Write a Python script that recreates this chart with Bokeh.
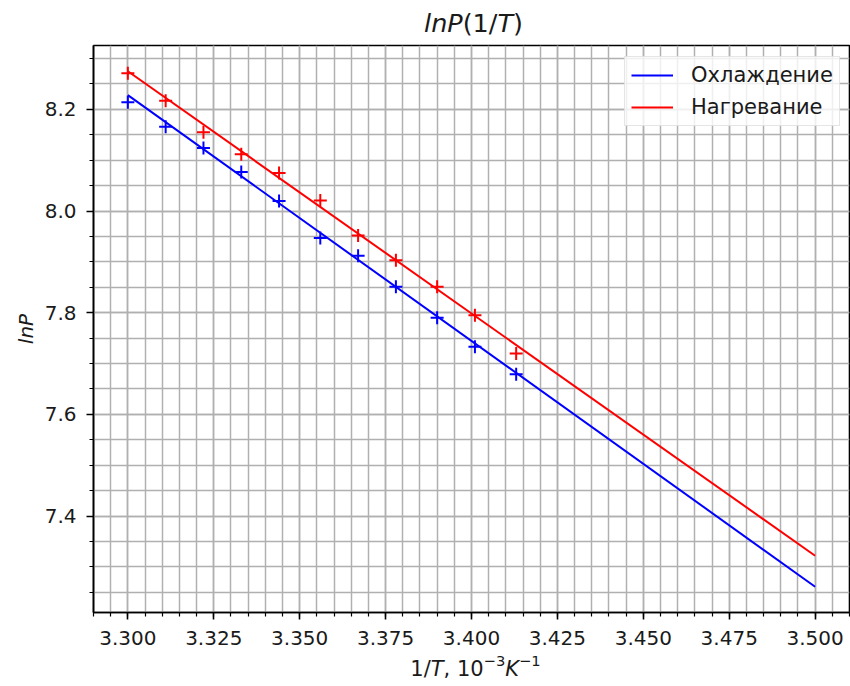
from bokeh.plotting import figure
from bokeh.layouts import column
from bokeh.models import (Range1d, SingleIntervalTicker, NumeralTickFormatter,
                          Legend, LegendItem, Label)
from bokeh.embed import file_html
from bokeh.resources import INLINE

# ---- data ----
inv_T = [3.300, 3.311, 3.322, 3.333, 3.344, 3.356, 3.367, 3.378, 3.390, 3.401, 3.413]
lnP_cooling = [8.214, 8.166, 8.124, 8.077, 8.020, 7.947, 7.912, 7.851, 7.790, 7.733, 7.679]
lnP_heating = [8.271, 8.217, 8.155, 8.112, 8.075, 8.021, 7.952, 7.903, 7.851, 7.795, 7.720]
fit_x = [3.300, 3.500]
fit_cooling = [8.228, 7.261]
fit_heating = [8.275, 7.322]
label_cooling = "Охлаждение"
label_heating = "Нагревание"

# ---- ranges: data limits with 5 % margins ----
xs = inv_T + fit_x
ys = lnP_cooling + lnP_heating + fit_cooling + fit_heating
xpad = 0.05 * (max(xs) - min(xs))
ypad = 0.05 * (max(ys) - min(ys))

FONT = "DejaVu Sans"
TXT = "#1a1a1a"
W = 850
BL, BR = 93, 1
TITLE_H = 43
XLAB_H = 36
MAIN_H = 686 - TITLE_H - XLAB_H

p = figure(width=W, height=MAIN_H, output_backend="svg", toolbar_location=None,
           title=None,
           x_range=Range1d(min(xs) - xpad, max(xs) + xpad),
           y_range=Range1d(min(ys) - ypad, max(ys) + ypad),
           min_border_left=BL, min_border_right=BR, min_border_top=2,
           min_border_bottom=MAIN_H - 2 - 567)
p.background_fill_color = "white"
p.border_fill_color = "white"
p.outline_line_color = "black"
p.outline_line_width = 1.6
p.outline_line_alpha = 1.0

# ticks
p.xaxis.ticker = SingleIntervalTicker(interval=0.025, num_minor_ticks=5)
p.yaxis.ticker = SingleIntervalTicker(interval=0.2, num_minor_ticks=4)
p.xaxis.formatter = NumeralTickFormatter(format="0.000")
p.yaxis.formatter = NumeralTickFormatter(format="0.0")
for ax in (p.xaxis, p.yaxis):
    ax.axis_line_color = "black"
    ax.axis_line_width = 1.6
    ax.major_tick_out = 7
    ax.major_tick_in = 0
    ax.minor_tick_out = 4
    ax.minor_tick_in = 0
    ax.major_tick_line_width = 1.6
    ax.minor_tick_line_width = 1.2
    ax.major_tick_line_color = "black"
    ax.minor_tick_line_color = "black"
    ax.major_label_text_font = FONT
    ax.major_label_text_font_size = "20px"
    ax.major_label_text_color = TXT
p.xaxis.major_label_standoff = 11
p.yaxis.major_label_standoff = 10

p.yaxis.axis_label = "lnP"
p.yaxis.axis_label_text_font = FONT
p.yaxis.axis_label_text_font_size = "20px"
p.yaxis.axis_label_text_font_style = "italic"
p.yaxis.axis_label_text_color = TXT
p.yaxis.axis_label_standoff = 4

# grid (major + minor)
for g in (p.xgrid, p.ygrid):
    g.grid_line_color = "#b0b0b0"
    g.grid_line_width = 1.5
    g.minor_grid_line_color = "#b0b0b0"
    g.minor_grid_line_width = 1.5

# data
l_cool = p.line(fit_x, fit_cooling, line_color="#0000ff", line_width=2)
l_heat = p.line(fit_x, fit_heating, line_color="#ff0000", line_width=2)
p.scatter(inv_T, lnP_cooling, marker="cross", size=13, line_color="#0000ff", line_width=2)
p.scatter(inv_T, lnP_heating, marker="cross", size=13, line_color="#ff0000", line_width=2)

legend = Legend(items=[LegendItem(label=label_cooling, renderers=[l_cool]),
                       LegendItem(label=label_heating, renderers=[l_heat])],
                location=(531, 486))
legend.label_text_font = FONT
legend.label_text_font_size = "21px"
legend.label_text_color = TXT
legend.glyph_width = 42
legend.glyph_height = 22
legend.label_height = 22
legend.label_standoff = 18
legend.spacing = 8
legend.padding = 6
legend.margin = 0
legend.border_line_color = "#cccccc"
legend.border_line_width = 1
legend.background_fill_color = "white"
legend.background_fill_alpha = 0.8
p.add_layout(legend)

# ---- mixed-style texts (title, x-axis label) in text strips ----
EM = {'l': 0.278, 'n': 0.634, 'P': 0.603, '(': 0.390, ')': 0.390, '1': 0.636,
      '/': 0.337, 'T': 0.611, ',': 0.318, ' ': 0.318, '0': 0.636, '\u2212': 0.838,
      '3': 0.636, 'K': 0.656}
Y_FIX = 8  # observed vertical offset of screen-unit labels in the strips


def text_strip(height, parts, size, center_x, base_y):
    f = figure(width=W, height=height, output_backend="svg", toolbar_location=None,
               title=None, x_range=Range1d(0, W - BL - BR), y_range=Range1d(0, height),
               x_axis_location=None, y_axis_location=None,
               min_border_left=BL, min_border_right=BR, min_border_top=0,
               min_border_bottom=0)
    f.outline_line_color = None
    f.background_fill_color = "white"
    f.border_fill_color = "white"
    for g in f.grid:
        g.visible = False
    widths = [sum(EM[c] for c in t) * size * sc for t, it, sc, rise in parts]
    x = center_x - BL - sum(widths) / 2
    for (t, italic, sc, rise), w in zip(parts, widths):
        f.add_layout(Label(x=x, y=base_y + rise + Y_FIX, x_units="screen", y_units="screen",
                           text=t, text_font=FONT, text_font_size=f"{size * sc:.1f}px",
                           text_font_style="italic" if italic else "normal",
                           text_align="left", text_baseline="alphabetic",
                           text_color=TXT))
        x += w
    return f


title_fig = text_strip(TITLE_H,
                       [("lnP", True, 1, 0), ("(1/", False, 1, 0), ("T", True, 1, 0),
                        (")", False, 1, 0)],
                       25.5, 473, TITLE_H - 30)
xlab_fig = text_strip(XLAB_H,
                      [("1/", False, 1, 0), ("T", True, 1, 0), (", 10", False, 1, 0),
                       ("\u22123", False, 0.7, 8), ("K", True, 1, 0),
                       ("\u22121", False, 0.7, 8)],
                      21, 475, XLAB_H - (676 - (686 - XLAB_H)))

layout = column(title_fig, p, xlab_fig, spacing=0)
open("out.html", "w").write(file_html(layout, INLINE))
